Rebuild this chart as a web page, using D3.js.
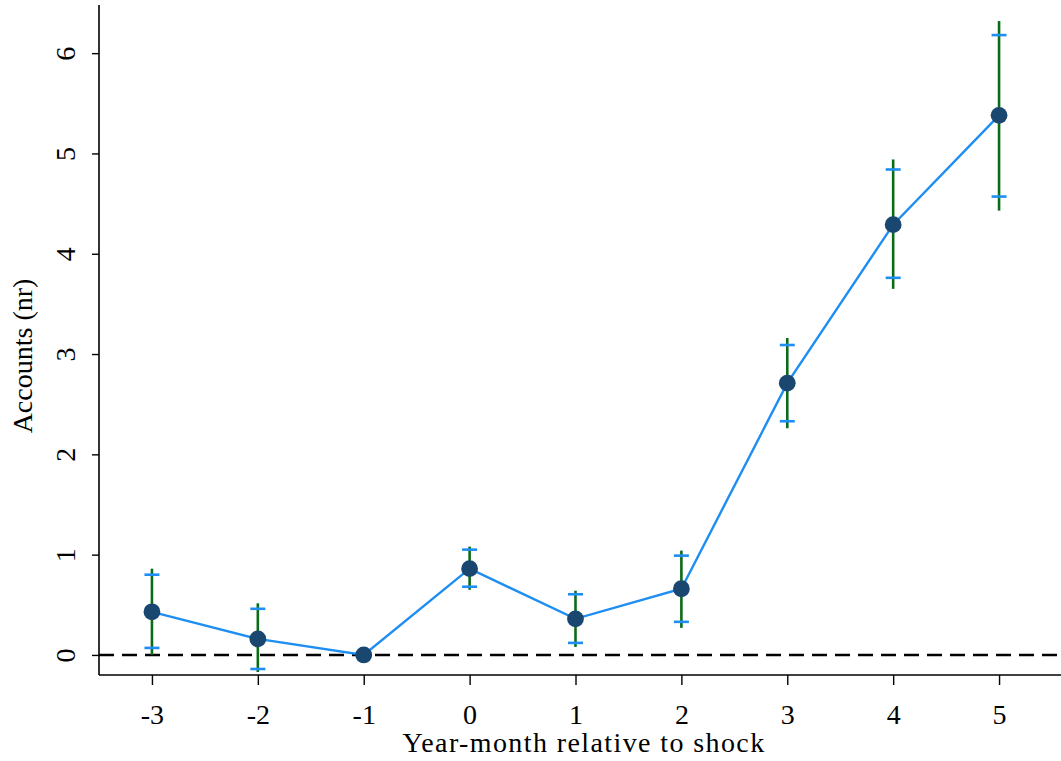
<!DOCTYPE html>
<html><head><meta charset="utf-8">
<script src="https://cdn.jsdelivr.net/npm/d3@7"></script>
<style>body{margin:0;background:#fff}svg{display:block}text{font-family:"Liberation Serif","DejaVu Serif",serif;fill:#000}</style>
</head><body><svg id="c" width="1061" height="761"></svg>
<script>
const periods = [-3, -2, -1, 0, 1, 2, 3, 4, 5];
const estimates = [0.43, 0.16, 0.0, 0.86, 0.36, 0.66, 2.71, 4.29, 5.38];
const ci95Low = [0.0, -0.17, null, 0.65, 0.08, 0.27, 2.26, 3.65, 4.43];
const ci95High = [0.86, 0.515, null, 1.08, 0.64, 1.04, 3.16, 4.94, 6.32];
const ci90Low = [0.07, -0.14, null, 0.68, 0.12, 0.33, 2.33, 3.76, 4.57];
const ci90High = [0.80, 0.46, null, 1.05, 0.605, 0.99, 3.09, 4.84, 6.18];
const yTicks = [0, 1, 2, 3, 4, 5, 6];
const xTicks = [-3, -2, -1, 0, 1, 2, 3, 4, 5];

const svg = d3.select("#c");
const L = 99, R = 1061, T = 5, B = 675;
const x = d3.scaleLinear().domain([-3.5, 5.585]).range([L, R]);
const y = d3.scaleLinear().domain([-0.2, 6.48]).range([B, T]);

const data = periods.map((p, i) => ({p, e: estimates[i], l95: ci95Low[i], h95: ci95High[i], l90: ci90Low[i], h90: ci90High[i]}));

// zero reference line
svg.append("line").attr("x1", L).attr("x2", R).attr("y1", y(0)).attr("y2", y(0))
  .attr("stroke", "#000").attr("stroke-width", 2.4).attr("stroke-dasharray", "15,8");

// axes
const yAxis = svg.append("g").attr("transform", `translate(${L},0)`)
  .call(d3.axisLeft(y).tickValues(yTicks).tickSize(7).tickFormat(d3.format("d")));
const xAxis = svg.append("g").attr("transform", `translate(0,${B})`)
  .call(d3.axisBottom(x).tickValues(xTicks).tickSize(10).tickFormat(d => d));
[yAxis, xAxis].forEach(g => {
  g.select(".domain").attr("stroke", "#000").attr("stroke-width", 1.6);
  g.selectAll(".tick line").attr("stroke", "#000").attr("stroke-width", 1.4);
  g.selectAll("text").style("font-size", "28px").attr("fill", "#000");
});
yAxis.select(".domain").attr("d", `M0,${B}V${T}`);
xAxis.select(".domain").attr("d", `M${L},0H${R}`);
yAxis.selectAll(".tick text").attr("transform", "rotate(-90)").attr("x", 0).attr("y", -24)
  .attr("dy", 0).style("text-anchor", "middle");
xAxis.selectAll(".tick text").attr("y", 49).attr("dy", 0);

// axis titles
svg.append("text").attr("transform", `translate(32,356) rotate(-90)`)
  .attr("text-anchor", "middle").style("font-size", "28px")
  .text("Accounts (nr)");
svg.append("text").attr("x", 584).attr("y", 752).attr("text-anchor", "middle")
  .style("font-size", "28px").style("letter-spacing", "1.4px").text("Year-month relative to shock");

const ci = data.filter(d => d.l95 !== null);
// green wide CI
svg.append("g").selectAll("line").data(ci).join("line")
  .attr("x1", d => x(d.p)).attr("x2", d => x(d.p))
  .attr("y1", d => y(d.l95)).attr("y2", d => y(d.h95))
  .attr("stroke", "#0a6b18").attr("stroke-width", 2.6);
// blue caps
const capW = 7.5;
const caps = ci.flatMap(d => [{p: d.p, v: d.l90}, {p: d.p, v: d.h90}]);
svg.append("g").selectAll("line").data(caps).join("line")
  .attr("x1", d => x(d.p) - capW).attr("x2", d => x(d.p) + capW)
  .attr("y1", d => y(d.v)).attr("y2", d => y(d.v))
  .attr("stroke", "#1e8ef2").attr("stroke-width", 2.6);

// connecting line
svg.append("path").datum(data)
  .attr("d", d3.line().x(d => x(d.p)).y(d => y(d.e)))
  .attr("fill", "none").attr("stroke", "#1e8ef2").attr("stroke-width", 2.4);

// points
svg.append("g").selectAll("circle").data(data).join("circle")
  .attr("cx", d => x(d.p)).attr("cy", d => y(d.e)).attr("r", 8.4)
  .attr("fill", "#1a476f");
</script></body></html>
